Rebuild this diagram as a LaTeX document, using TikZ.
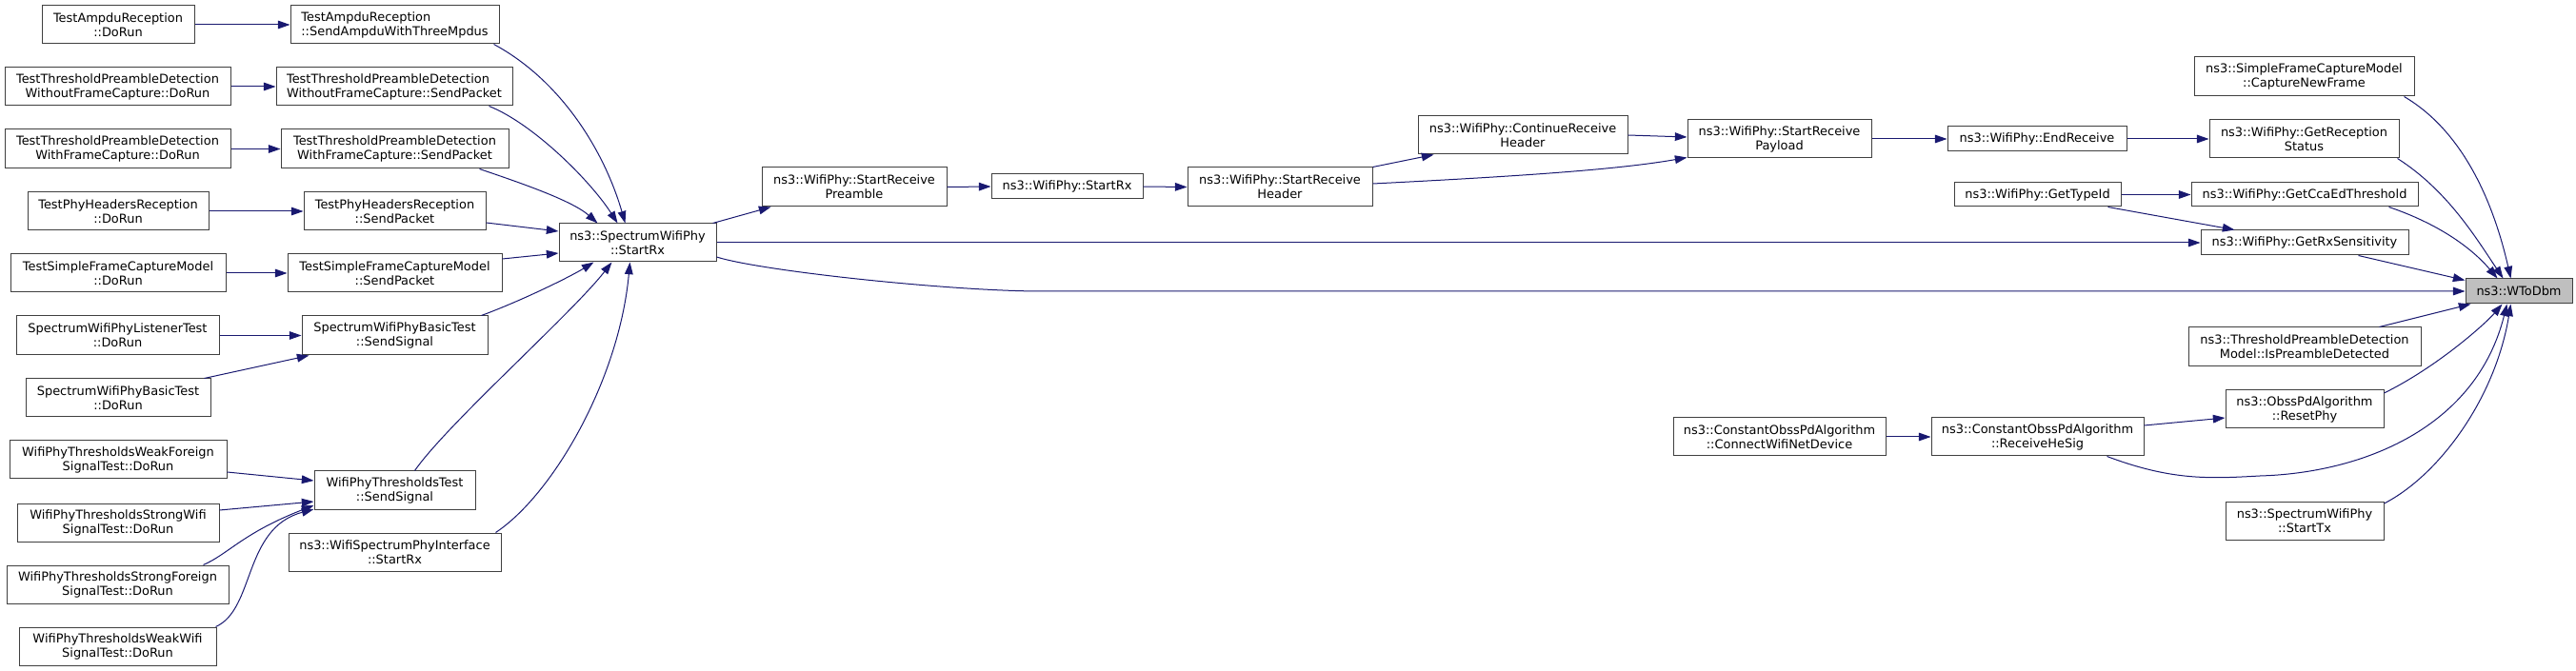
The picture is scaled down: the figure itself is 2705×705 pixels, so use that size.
\documentclass[tikz,border=0pt]{standalone}
\usepackage{fontspec}
\setmainfont{DejaVu Sans}
\usetikzlibrary{arrows.meta,calc}
\definecolor{edgec}{HTML}{191970}
\definecolor{boxc}{HTML}{404040}
\definecolor{fillc}{HTML}{BFBFBF}
\tikzset{
 box/.style={draw=boxc, line width=0.75pt, fill=white, inner sep=0pt, align=center, font=\fontsize{9.7}{11.25}\selectfont},
 lbox/.style={align=left},
 cur/.style={fill=fillc},
 edge/.style={draw=edgec, line width=0.75pt, -{Triangle[length=9.5pt,width=6.5pt]}},
}
\newcommand\bx[7][]{\node[box,#1, minimum width={(#5-#3)*0.75pt}, minimum height={(#6-#4)*0.75pt}] (#2) at ({(#3+#5)/2},{(#4+#6)/2}) {#7};}
\begin{document}
\begin{tikzpicture}[x=0.75pt,y=-0.75pt]
\useasboundingbox (0,0) rectangle (2705,705);
% left column
\bx{a1}{44}{6}{204}{46}{TestAmpduReception\\::DoRun}
\bx[lbox]{a2}{305}{6}{524}{46}{TestAmpduReception\\::SendAmpduWithThreeMpdus}
\bx{b1}{5}{71}{242}{111}{TestThresholdPreambleDetection\\WithoutFrameCapture::DoRun}
\bx[lbox]{b2}{290}{71}{538}{111}{TestThresholdPreambleDetection\\WithoutFrameCapture::SendPacket}
\bx{c1}{5}{136}{242}{177}{TestThresholdPreambleDetection\\WithFrameCapture::DoRun}
\bx{c2}{295}{136}{534}{177}{TestThresholdPreambleDetection\\WithFrameCapture::SendPacket}
\bx{d1}{29}{202}{219}{242}{TestPhyHeadersReception\\::DoRun}
\bx{d2}{319}{202}{510}{242}{TestPhyHeadersReception\\::SendPacket}
\bx{e1}{11}{267}{237}{307}{TestSimpleFrameCaptureModel\\::DoRun}
\bx{e2}{302}{267}{527}{307}{TestSimpleFrameCaptureModel\\::SendPacket}
\bx{f1}{17}{332}{230}{373}{SpectrumWifiPhyListenerTest\\::DoRun}
\bx{f2}{317}{332}{512}{373}{SpectrumWifiPhyBasicTest\\::SendSignal}
\bx{g1}{27}{398}{221}{438}{SpectrumWifiPhyBasicTest\\::DoRun}
\bx{h1}{10}{463}{238}{503}{WifiPhyThresholdsWeakForeign\\SignalTest::DoRun}
\bx{h2}{330}{495}{499}{535}{WifiPhyThresholdsTest\\::SendSignal}
\bx{i1}{18}{529}{230}{569}{WifiPhyThresholdsStrongWifi\\SignalTest::DoRun}
\bx{j1}{7}{594}{240}{634}{WifiPhyThresholdsStrongForeign\\SignalTest::DoRun}
\bx{k1}{20}{659}{227}{699}{WifiPhyThresholdsWeakWifi\\SignalTest::DoRun}
\bx{k2}{303}{560}{526}{600}{ns3::WifiSpectrumPhyInterface\\::StartRx}
\bx{sr}{587}{235}{752}{275}{ns3::SpectrumWifiPhy\\::StartRx}
% middle
\bx{pre}{800}{176}{994}{217}{ns3::WifiPhy::StartReceive\\Preamble}
\bx{wrx}{1041}{183}{1200}{209}{ns3::WifiPhy::StartRx}
\bx{hdr}{1247}{176}{1441}{217}{ns3::WifiPhy::StartReceive\\Header}
\bx{cont}{1489}{122}{1709}{162}{ns3::WifiPhy::ContinueReceive\\Header}
\bx{pay}{1772}{126}{1965}{166}{ns3::WifiPhy::StartReceive\\Payload}
\bx{endr}{2045}{133}{2233}{159}{ns3::WifiPhy::EndReceive}
\bx{grs}{2320}{126}{2519}{166}{ns3::WifiPhy::GetReception\\Status}
\bx{cnf}{2304}{60}{2535}{101}{ns3::SimpleFrameCaptureModel\\::CaptureNewFrame}
\bx{gti}{2052}{192}{2227}{217}{ns3::WifiPhy::GetTypeId}
\bx{gcca}{2301}{192}{2539}{217}{ns3::WifiPhy::GetCcaEdThreshold}
\bx{grx}{2311}{242}{2529}{268}{ns3::WifiPhy::GetRxSensitivity}
\bx[cur]{w}{2589}{293}{2701}{319}{ns3::WToDbm}
\bx{ipd}{2298}{344}{2542}{385}{ns3::ThresholdPreambleDetection\\Model::IsPreambleDetected}
\bx{rp}{2337}{410}{2503}{450}{ns3::ObssPdAlgorithm\\::ResetPhy}
\bx{cwn}{1757}{439}{1980}{479}{ns3::ConstantObssPdAlgorithm\\::ConnectWifiNetDevice}
\bx{rhs}{2028}{439}{2251}{479}{ns3::ConstantObssPdAlgorithm\\::ReceiveHeSig}
\bx{stx}{2337}{527}{2503}{567}{ns3::SpectrumWifiPhy\\::StartTx}
% edges left
\draw[edge] (a1.east) -- (a2.west);
\draw[edge] (b1.east) -- (b2.west);
\draw[edge] (c1.east) -- (c2.west);
\draw[edge] (d1.east) -- (d2.west);
\draw[edge] (e1.east) -- (e2.west);
\draw[edge] (f1.east) -- (f2.west);
\draw[edge] ($(g1.north east)+(-7,0)$) -- ($(f2.south west)+(8,0)$);
\draw[edge] ($(h1.east)+(0,13)$) -- ($(h2.west)+(0,-10)$);
\draw[edge] ($(i1.east)+(0,-13)$) -- ($(h2.west)+(0,12)$);
\draw[edge] ($(j1.north east)+(-27,0)$) .. controls (240,582) and (255,560) .. ($(h2.west)+(0,16)$);
\draw[edge] ($(k1.north east)+(-1,0)$) .. controls (268,640) and (255,555) .. ($(h2.west)+(0,20)$);
% into SpectrumWifiPhy::StartRx
\draw[edge] ($(a2.south east)+(-6,0)$) .. controls (590,85) and (635,160) .. ($(sr.north west)+(70,0)$);
\draw[edge] ($(b2.south east)+(-25,0)$) .. controls (560,130) and (620,190) .. ($(sr.north west)+(62,0)$);
\draw[edge] ($(c2.south east)+(-31,0)$) .. controls (540,190) and (600,210) .. ($(sr.north west)+(41,0)$);
\draw[edge] ($(d2.east)+(0,12)$) -- ($(sr.west)+(0,-12)$);
\draw[edge] ($(e2.east)+(0,-15)$) -- ($(sr.west)+(0,11)$);
\draw[edge] ($(f2.north east)+(-7,0)$) .. controls (550,315) and (600,290) .. ($(sr.south west)+(37,0)$);
\draw[edge] ($(h2.north)+(21,0)$) .. controls (470,445) and (600,330) .. ($(sr.south west)+(56,0)$);
\draw[edge] ($(k2.north east)+(-6,0)$) .. controls (580,520) and (650,400) .. ($(sr.south west)+(75,0)$);
% middle
\draw[edge] ($(sr.north east)+(-4,0)$) -- ($(pre.south west)+(10,0)$);
\draw[edge] (sr.east) -- (grx.west);
\draw[edge] ($(sr.east)+(0,15)$) .. controls (800,285) and (1000,306) .. (1094,306) -- (w.west);
\draw[edge] (pre.east) -- (wrx.west);
\draw[edge] (wrx.east) -- (hdr.west);
\draw[edge] (hdr.north east) -- ($(cont.south west)+(17,0)$);
\draw[edge] ($(hdr.east)+(0,-3.5)$) .. controls (1600,185) and (1700,178) .. ($(pay.south west)+(0,-1)$);
\draw[edge] (cont.east) -- ($(pay.west)+(0,-2)$);
\draw[edge] (pay.east) -- (endr.west);
\draw[edge] (endr.east) -- (grs.west);
% right
\draw[edge] ($(grs.south east)+(-2,0)$) .. controls (2570,200) and (2600,250) .. ($(w.north west)+(40,0)$);
\draw[edge] ($(cnf.south east)+(-11,0)$) .. controls (2590,140) and (2620,220) .. ($(w.north west)+(48,0)$);
\draw[edge] ($(gcca.south east)+(-31,0)$) .. controls (2560,235) and (2595,260) .. ($(w.north west)+(34,0)$);
\draw[edge] (gti.east) -- (gcca.west);
\draw[edge] ($(gti.south east)+(-14,0)$) -- ($(grx.north west)+(36,0)$);
\draw[edge] ($(grx.south east)+(-53,0)$) -- ($(w.north west)+(0,2)$);
\draw[edge] ($(ipd.north east)+(-44,0)$) -- ($(w.south west)+(6,0)$);
\draw[edge] ($(rp.east)+(0,-17)$) .. controls (2560,385) and (2610,340) .. ($(w.south west)+(39,0)$);
\draw[edge] ($(rhs.south east)+(-39,0)$) .. controls (2280,505) and (2320,503) .. (2373,500) .. controls (2480,497) and (2600,450) .. ($(w.south west)+(44,0)$);
\draw[edge] ($(stx.east)+(0,-18)$) .. controls (2560,500) and (2620,420) .. ($(w.south west)+(48,0)$);
\draw[edge] ($(rhs.east)+(0,-12)$) -- ($(rp.west)+(0,9)$);
\draw[edge] (cwn.east) -- (rhs.west);
\end{tikzpicture}
\end{document}
